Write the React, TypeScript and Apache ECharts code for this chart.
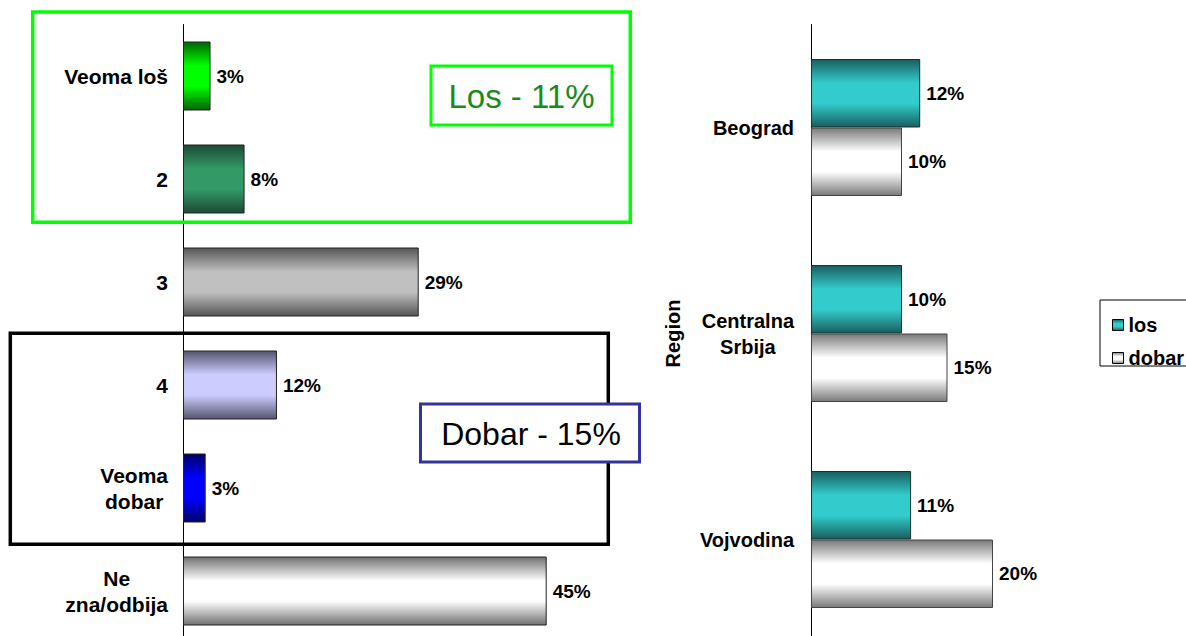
import React, { useEffect, useRef } from "react";
import * as echarts from "echarts";

// ---- Data ----
const ratingCategories = ["Veoma loš", "2", "3", "4", "Veoma\ndobar", "Ne\nzna/odbija"];
const ratingValues = [3.4, 7.6, 29.1, 11.6, 2.8, 44.9];
const ratingEdgeColors = ["#006400", "#1b4a33", "#555555", "#55556e", "#000066", "#707070"];
const ratingMidColors = ["#00ff00", "#339966", "#c0c0c0", "#ccccff", "#0000ff", "#ffffff"];

const regionCategories = ["Beograd", "Centralna\nSrbija", "Vojvodina"];
const losValues = [12, 10, 11];
const dobarValues = [10, 15, 20];
const seriesNames = ["los", "dobar"];

const losTotalLabel = "Los - 11%";
const dobarTotalLabel = "Dobar - 15%";

const FONT = 'Arial, "Liberation Sans", Helvetica, sans-serif';

function grad(edge: string, mid: string) {
  return new echarts.graphic.LinearGradient(0, 0, 0, 1, [
    { offset: 0, color: edge },
    { offset: 0.35, color: mid },
    { offset: 0.65, color: mid },
    { offset: 1, color: edge },
  ]);
}

function centeredLines(v: string) {
  return v
    .split("\n")
    .map((l) => `{c|${l}}`)
    .join("\n");
}

export default function App() {
  const ref = useRef<HTMLDivElement>(null);
  useEffect(() => {
    if (!ref.current) return;
    const chart = echarts.init(ref.current, null, { renderer: "svg" });
    const richFor = (size: number) => ({
      c: {
        align: "center",
        fontFamily: FONT,
        fontWeight: "bold",
        fontSize: size,
        lineHeight: 26,
        color: "#000",
      },
    });
    const valueLabel = {
      show: true,
      position: "right",
      distance: 6,
      fontFamily: FONT,
      fontWeight: "bold",
      fontSize: 19,
      color: "#000",
      formatter: (p: any) => `${Math.round(p.value)}%`,
    };
    chart.setOption({
      animation: false,
      backgroundColor: "#ffffff",
      grid: [
        { left: 183, top: 24.5, width: 486, height: 618, containLabel: false },
        { left: 811, top: 24.5, width: 273, height: 618, containLabel: false },
      ],
      xAxis: [
        { type: "value", gridIndex: 0, min: 0, max: 60, show: false },
        { type: "value", gridIndex: 1, min: 0, max: 30, show: false },
      ],
      yAxis: [
        {
          type: "category",
          gridIndex: 0,
          inverse: true,
          data: ratingCategories,
          axisLine: { lineStyle: { color: "#000", width: 1 } },
          axisTick: { show: false },
          splitLine: { show: false },
          axisLabel: {
            margin: 15,
            formatter: centeredLines,
            rich: richFor(21),
            fontFamily: FONT,
            fontWeight: "bold",
            fontSize: 21,
            color: "#000",
          },
        },
        {
          type: "category",
          gridIndex: 1,
          inverse: true,
          data: regionCategories,
          name: "Region",
          nameLocation: "middle",
          nameRotate: 90,
          nameGap: 128,
          nameTextStyle: { fontFamily: FONT, fontWeight: "bold", fontSize: 20, color: "#000" },
          axisLine: { lineStyle: { color: "#000", width: 1 } },
          axisTick: { show: false },
          splitLine: { show: false },
          axisLabel: {
            margin: 17,
            formatter: centeredLines,
            rich: richFor(20),
            fontFamily: FONT,
            fontWeight: "bold",
            fontSize: 20,
            color: "#000",
          },
        },
      ],
      legend: {
        data: seriesNames,
        orient: "vertical",
        left: 1107,
        top: 309,
        itemWidth: 11,
        itemHeight: 11,
        itemGap: 11,
        icon: "rect",
        itemStyle: { borderColor: "#000", borderWidth: 1 },
        textStyle: { fontFamily: FONT, fontWeight: "bold", fontSize: 20, color: "#000", lineHeight: 22 },
        selectedMode: false,
      },
      series: [
        {
          type: "bar",
          xAxisIndex: 0,
          yAxisIndex: 0,
          barWidth: 69,
          data: ratingValues.map((v, i) => ({
            value: v,
            itemStyle: {
              color: grad(ratingEdgeColors[i], ratingMidColors[i]),
              borderColor: "#222",
              borderWidth: 1,
            },
          })),
          label: valueLabel,
        },
        {
          name: seriesNames[0],
          type: "bar",
          xAxisIndex: 1,
          yAxisIndex: 1,
          barWidth: 68.5,
          barGap: "0%",
          data: losValues,
          itemStyle: { color: grad("#1a5e5e", "#33cccc"), borderColor: "#1a3030", borderWidth: 1 },
          label: valueLabel,
        },
        {
          name: seriesNames[1],
          type: "bar",
          xAxisIndex: 1,
          yAxisIndex: 1,
          barWidth: 68.5,
          barGap: "0%",
          data: dobarValues,
          itemStyle: { color: grad("#7a7a7a", "#ffffff"), borderColor: "#444", borderWidth: 1 },
          label: valueLabel,
        },
      ],
      graphic: [
        {
          type: "rect",
          shape: { x: 32.7, y: 12, width: 597.6, height: 210.3 },
          style: { fill: "none", stroke: "#00ff00", lineWidth: 3.5 },
          z: 100,
        },
        {
          type: "rect",
          shape: { x: 10.3, y: 333.3, width: 598, height: 211 },
          style: { fill: "none", stroke: "#000000", lineWidth: 3.5 },
          z: 100,
        },
        {
          type: "rect",
          shape: { x: 431, y: 66, width: 181, height: 59 },
          style: { fill: "#ffffff", stroke: "#00ff00", lineWidth: 3 },
          z: 101,
        },
        {
          type: "text",
          x: 521.5,
          y: 96,
          style: {
            text: losTotalLabel,
            fill: "#1a8a1a",
            fontFamily: FONT,
            fontSize: 33,
            align: "center",
            verticalAlign: "middle",
          },
          z: 102,
        },
        {
          type: "rect",
          shape: { x: 420.5, y: 404, width: 219, height: 58 },
          style: { fill: "#ffffff", stroke: "#333399", lineWidth: 3 },
          z: 101,
        },
        {
          type: "text",
          x: 531,
          y: 433.5,
          style: {
            text: dobarTotalLabel,
            fill: "#000000",
            fontFamily: FONT,
            fontSize: 32,
            align: "center",
            verticalAlign: "middle",
          },
          z: 102,
        },
        {
          type: "rect",
          shape: { x: 1100, y: 300, width: 100, height: 66 },
          style: { fill: "none", stroke: "#000000", lineWidth: 1 },
          z: 100,
        },
      ],
    });
    return () => chart.dispose();
  }, []);
  return (
    <div
      style={{
        position: "fixed",
        left: 0,
        top: 0,
        width: 1186,
        height: 636,
        overflow: "hidden",
        background: "#fff",
      }}
    >
      <div ref={ref} style={{ width: 1186, height: 660 }} />
    </div>
  );
}
